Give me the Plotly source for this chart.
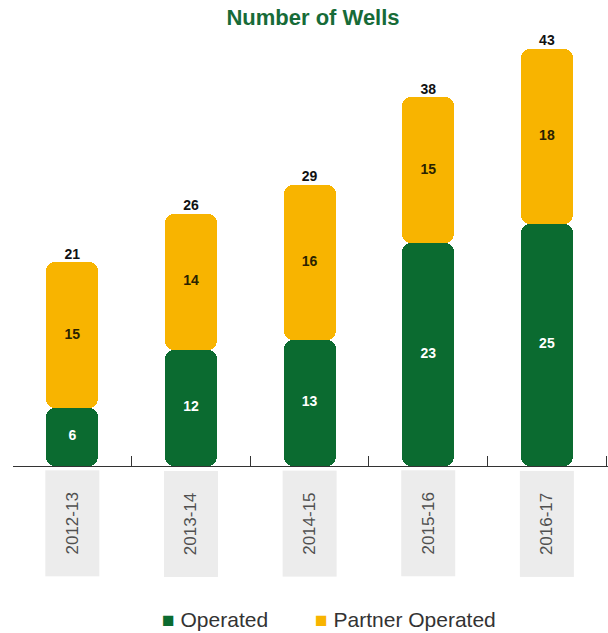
import plotly.graph_objects as go

# Data
years = ["2012-13", "2013-14", "2014-15", "2015-16", "2016-17"]
operated = [6, 12, 13, 23, 25]
partner = [15, 14, 16, 15, 18]
totals = [o + p for o, p in zip(operated, partner)]
series_names = ["Operated", "Partner Operated"]

GREEN = "#0b6b30"
YELLOW = "#f8b400"
BAR_W = 0.44
RADIUS = 9

fig = go.Figure()

# Each stacked segment is its own bar with an explicit base
fig.add_trace(go.Bar(
    x=years, y=operated, base=[0] * len(years),
    marker=dict(color=GREEN, cornerradius=RADIUS, line=dict(width=0)),
    width=BAR_W, name=series_names[0], hoverinfo="skip", showlegend=False))
fig.add_trace(go.Bar(
    x=years, y=partner, base=operated,
    marker=dict(color=YELLOW, cornerradius=RADIUS, line=dict(width=0)),
    width=BAR_W, name=series_names[1], hoverinfo="skip", showlegend=False))

op_mid = [v / 2 for v in operated]
pt_mid = [o + p / 2 for o, p in zip(operated, partner)]

label_font = "Liberation Sans, Arial, sans-serif"

# Segment values
fig.add_trace(go.Scatter(
    x=years, y=op_mid, mode="text", text=[str(v) for v in operated],
    textfont=dict(family=label_font, size=14, color="white", weight="bold"),
    showlegend=False, hoverinfo="skip", cliponaxis=False))
fig.add_trace(go.Scatter(
    x=years, y=pt_mid, mode="text", text=[str(v) for v in partner],
    textfont=dict(family=label_font, size=14, color="#2a2200", weight="bold"),
    showlegend=False, hoverinfo="skip", cliponaxis=False))
# Totals above each column
fig.add_trace(go.Scatter(
    x=years, y=totals, mode="text", text=[str(v) for v in totals],
    textposition="top center",
    textfont=dict(family=label_font, size=14, color="#111111", weight="bold"),
    showlegend=False, hoverinfo="skip", cliponaxis=False))

# Year labels in light grey rotated boxes below the axis
for yr in years:
    fig.add_annotation(
        x=yr, xref="x", y=-0.1234, yref="paper", yanchor="middle",
        text=yr, textangle=-90, showarrow=False,
        width=103, height=51, bgcolor="#ececec",
        font=dict(family="Liberation Sans, Arial, sans-serif", size=17,
                  color="#505050"))

# Legend row: coloured square followed by the series name
legend_x = [0.247, 0.504]
for name, color, lx in zip(series_names, [GREEN, YELLOW], legend_x):
    fig.add_annotation(
        x=lx, xref="paper", xanchor="left", y=-0.330, yref="paper",
        yanchor="middle", showarrow=False,
        text=f"<span style='color:{color}'>■</span> {name}",
        font=dict(family="Liberation Sans, DejaVu Sans, Arial, sans-serif",
                  size=21, color="#333333"))

fig.update_layout(
    width=608, height=633,
    margin=dict(l=13, r=0, t=0, b=167),
    paper_bgcolor="white", plot_bgcolor="white",
    barmode="overlay", bargap=0,
    title=dict(text="<b>Number of Wells</b>", x=313 / 608, xref="container",
               xanchor="center", y=1 - 17 / 633, yanchor="middle",
               font=dict(family=label_font, size=22, color="#176b38")),
    xaxis=dict(range=[-0.5, 4.515], showgrid=False, showline=True,
               linecolor="#333333", linewidth=1, ticks="inside",
               tickson="boundaries", ticklen=10, tickcolor="#333333",
               showticklabels=False, zeroline=False, fixedrange=True),
    yaxis=dict(range=[0, 466 / 9.7], visible=False, showgrid=False,
               zeroline=False, fixedrange=True),
    showlegend=False,
)

fig.write_html("out.html")
